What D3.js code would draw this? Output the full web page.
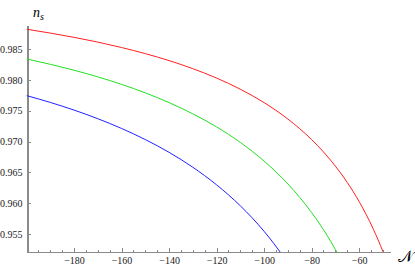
<!DOCTYPE html>
<html>
<head>
    <script src="https://d3js.org/d3.v7.min.js"></script>
    <style>
        body { margin: 0; background: #fff; }
        .axis path, .axis line { stroke: #8a8a8a; shape-rendering: crispEdges; }
        .axis text { font-family: "Liberation Serif", serif; font-size: 10px; fill: #222; }
        .curve { fill: none; stroke-width: 1; }
    </style>
</head>
<body>
<div id="chart"></div>
<script>
    // values (N, n_s), smoothed by eye
    var redN   = [-200, -190, -180, -170, -160, -150, -140, -130, -120, -110, -100, -95, -90, -85, -80, -75, -70, -65, -60, -57, -54, -52, -50, -49];
    var redNs  = [0.98822, 0.98759, 0.98690, 0.98613, 0.98525, 0.98426, 0.98313, 0.98182, 0.98030, 0.97849, 0.97632, 0.97506,
                  0.97366, 0.97209, 0.97033, 0.96832, 0.96603, 0.96338, 0.96028, 0.95816, 0.95579, 0.95406, 0.95219, 0.95120];
    var greenN  = [-200, -190, -180, -170, -160, -150, -140, -130, -120, -110, -100, -95, -90, -85, -80, -75, -72, -70, -69];
    var greenNs = [0.98340, 0.98253, 0.98157, 0.98049, 0.97928, 0.97790, 0.97632, 0.97450, 0.97238, 0.96986, 0.96684, 0.96509,
                   0.96314, 0.96096, 0.95850, 0.95571, 0.95385, 0.95252, 0.95182];
    var blueN  = [-200, -190, -180, -170, -160, -150, -140, -130, -120, -115, -110, -105, -100, -96, -93];
    var blueNs = [0.97746, 0.97635, 0.97511, 0.97371, 0.97213, 0.97033, 0.96826, 0.96584, 0.96299, 0.96137, 0.95959, 0.95763,
                  0.95545, 0.95353, 0.95197];
    var xMajor = [-180, -160, -140, -120, -100, -80, -60];
    var yMajor = [0.955, 0.960, 0.965, 0.970, 0.975, 0.980, 0.985];

    var width = 415, height = 268;
    var svg = d3.select("#chart").append("svg")
        .attr("width", width)
        .attr("height", height);

    var x = d3.scaleLinear().domain([-200, -47]).range([26.5, 390]);
    var y = d3.scaleLinear().domain([0.9521, 0.9889]).range([252, 25]);

    var xMinor = d3.range(-200, -46, 5).filter(v => xMajor.indexOf(v) < 0);
    var yMinor = d3.range(9522, 9889, 1).map(v => v / 10000).filter(v => Math.round(v * 10000) % 50 != 0);

    // minor ticks
    svg.append("g").attr("class", "axis")
        .attr("transform", "translate(0," + y.range()[0] + ")")
        .call(d3.axisBottom(x).tickValues(xMinor).tickSize(-2.5).tickSizeOuter(0).tickFormat(""))
        .select(".domain").remove();
    svg.append("g").attr("class", "axis")
        .attr("transform", "translate(" + x.range()[0] + ",0)")
        .call(d3.axisLeft(y).tickValues(yMinor).tickSize(-2.5).tickSizeOuter(0).tickFormat(""))
        .select(".domain").remove();

    // X axis
    svg.append("g").attr("class", "axis")
        .attr("transform", "translate(0," + y.range()[0] + ")")
        .call(d3.axisBottom(x).tickValues(xMajor).tickSize(-4.5).tickSizeOuter(0).tickPadding(5)
            .tickFormat(d => "\u2212" + Math.abs(d)));

    // Y axis
    svg.append("g").attr("class", "axis")
        .attr("transform", "translate(" + x.range()[0] + ",0)")
        .call(d3.axisLeft(y).tickValues(yMajor).tickSize(-4.5).tickSizeOuter(0).tickPadding(4)
            .tickFormat(d3.format(".3f")));

    svg.append("clipPath").attr("id", "clip")
        .append("rect")
        .attr("x", x.range()[0]).attr("y", y.range()[1])
        .attr("width", x.range()[1] - x.range()[0])
        .attr("height", y.range()[0] - y.range()[1]);

    var line = d3.line()
        .x(d => x(d[0]))
        .y(d => y(d[1]))
        .curve(d3.curveMonotoneX);

    var series = [
        { n: redN, v: redNs, c: "#ff2020" },
        { n: greenN, v: greenNs, c: "#20e020" },
        { n: blueN, v: blueNs, c: "#2020ff" }
    ];

    series.forEach(function(s) {
        svg.append("path")
            .attr("class", "curve")
            .attr("clip-path", "url(#clip)")
            .attr("stroke", s.c)
            .attr("d", line(s.n.map((d, i) => [d, s.v[i]])));
    });

    // axis labels
    var ns = svg.append("text")
        .attr("x", 33).attr("y", 17)
        .style("font-family", "'Liberation Serif', serif")
        .style("font-style", "italic")
        .style("font-size", "14px");
    ns.append("tspan").text("n");
    ns.append("tspan").attr("dy", 3).style("font-size", "10px").text("s");

    svg.append("text")
        .attr("x", 398).attr("y", 262)
        .style("font-family", "'DejaVu Serif', serif")
        .style("font-size", "16px")
        .text("\uD835\uDCA9");
</script>
</body>
</html>
